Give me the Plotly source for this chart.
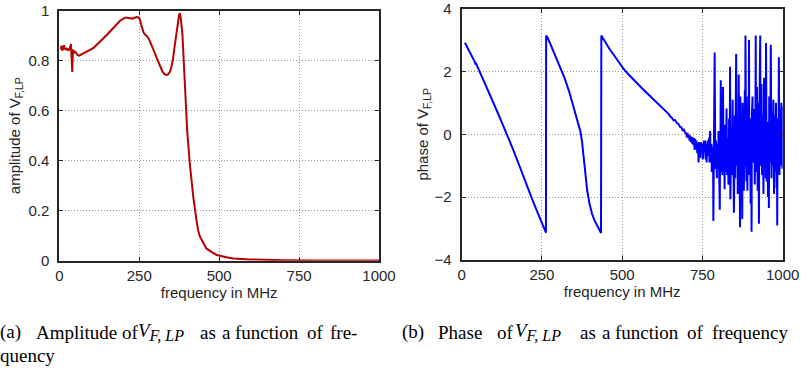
import plotly.graph_objects as go

# ---------------- data ----------------
amp_freq = [5, 7, 9, 11, 13, 15, 17, 19, 21, 23, 26, 29, 31, 33, 35, 36.5, 38, 39.5, 40.5, 41.5, 43,
            45, 47, 49, 51, 54, 57, 62, 68, 75, 83, 91, 99, 106, 113, 120, 127, 135, 143, 150, 158,
            166, 174, 182, 190, 198, 205, 213, 221, 229, 236, 242, 248, 252, 256, 260, 264, 268, 273,
            280, 287, 294, 301, 308, 315, 322, 329, 335, 340, 346, 351, 356, 361, 367, 372, 375, 377,
            380, 385, 389, 393, 397, 400, 408, 419, 429, 434, 440, 450, 460, 476, 492, 523, 544, 596,
            650, 700, 800, 900, 1000]
amp_vals = [0.845, 0.86, 0.84, 0.845, 0.852, 0.862, 0.845, 0.85, 0.843, 0.848, 0.846, 0.84, 0.845,
            0.85, 0.858, 0.867, 0.84, 0.79, 0.755, 0.8, 0.845, 0.835, 0.84, 0.83, 0.835, 0.825, 0.823,
            0.82, 0.824, 0.828, 0.832, 0.837, 0.843, 0.85, 0.859, 0.867, 0.876, 0.886, 0.896, 0.905,
            0.916, 0.927, 0.938, 0.95, 0.96, 0.966, 0.972, 0.972, 0.97, 0.968, 0.972, 0.975, 0.973,
            0.965, 0.945, 0.925, 0.912, 0.905, 0.9, 0.888, 0.866, 0.843, 0.82, 0.797, 0.776, 0.758,
            0.746, 0.743, 0.745, 0.756, 0.777, 0.81, 0.86, 0.92, 0.965, 0.985, 0.99, 0.97, 0.91, 0.81,
            0.71, 0.6, 0.52, 0.39, 0.256, 0.163, 0.123, 0.096, 0.07, 0.049, 0.035, 0.023, 0.014, 0.009,
            0.005, 0.003, 0.002, 0.001, 0.0007, 0.0005]

phase_freq = [10, 20, 30, 38, 40, 42, 44, 46, 60, 80, 100, 120, 140, 160, 180, 200, 220, 240, 255,
              262.5,
              263, 266, 275, 285, 295, 307, 320, 335, 349, 360, 370, 375, 380, 385, 391, 398, 406,
              414, 422, 428, 434,
              435, 440, 450, 460, 474, 490, 505, 520, 540, 560, 580, 600, 620, 630, 640, 645, 650,
              655, 660, 665, 670, 675, 680, 684, 688, 692, 696,
              700, 701, 702, 703, 704, 706, 707, 708, 710, 711, 712, 714, 715, 716, 718, 719, 720,
              722, 723, 724, 726, 727, 728, 730, 731, 732, 734, 735, 736, 738, 739, 740, 742, 743,
              744, 746, 747, 748, 750, 751, 752, 754, 755, 756, 758, 759, 760, 762, 763, 764, 766,
              767, 768, 770, 771, 772, 774, 775, 776, 778, 779, 780, 782, 783, 784, 786, 787, 788,
              790, 791, 792, 794, 795, 796, 798, 799, 800, 802, 803, 804, 805, 806, 807, 809, 810,
              811, 812, 813, 814, 816, 817, 818, 819, 820, 821, 823, 824, 825, 827, 828, 829, 831,
              832, 833, 835, 836, 837, 839, 840, 841, 843, 844, 845, 847, 848, 849, 851, 852, 854,
              855, 856, 858, 859, 860, 862, 863, 864, 866, 867, 868, 870, 871, 872, 874, 875, 876,
              878, 879, 880, 882, 883, 884, 886, 887, 888, 890, 891, 892, 894, 895, 896, 898, 899,
              900, 902, 903, 904, 906, 907, 908, 911, 912, 913, 915, 916, 917, 919, 920, 922, 923,
              924, 926, 927, 928, 930, 931, 932, 934, 935, 936, 938, 939, 940, 942, 943, 944, 946,
              947, 948, 950, 951, 953, 954, 955, 957, 958, 959, 961, 962, 963, 965, 966, 967, 969,
              970, 971, 973, 974, 975, 977, 978, 979, 981, 982, 983, 984, 986, 987, 988, 990, 991,
              992, 994, 995, 996, 998, 999, 1000]
phase_vals = [2.91, 2.72, 2.52, 2.37, 2.32, 2.25, 2.26, 2.22, 1.88, 1.43, 0.97, 0.5, 0.03, -0.48,
              -1.01, -1.58, -2.08, -2.58, -2.96, -3.13,
              3.14, 3.1, 2.9, 2.66, 2.42, 2.13, 1.8, 1.35, 0.87, 0.45, 0.08, -0.25, -0.72, -1.25,
              -1.79, -2.2, -2.53, -2.75, -2.92, -3.05, -3.14,
              3.14, 3.05, 2.88, 2.72, 2.52, 2.28, 2.07, 1.9, 1.68, 1.48, 1.28, 1.08, 0.88, 0.8, 0.68,
              0.64, 0.56, 0.52, 0.44, 0.45, 0.36, 0.33, 0.24, 0.22, 0.13, 0.15, 0.05,
              0.02, -0.1, -0.08, 0.04, 0.0, -0.12, -0.02, -0.05, -0.2, -0.05, -0.1, -0.25, -0.08,
              -0.12, -0.3, -0.1, -0.15, -0.35, -0.12, -0.2, -0.5, -0.15, -0.25, -0.45, -0.2, -0.3,
              -0.6, -0.3, -0.35, -0.9, -0.25, -0.4, -0.3, -0.75, -0.6, -0.25, -0.55, -0.5, -0.3,
              -0.8, -0.7, -0.35, -0.2, -0.55, -0.2, -0.45, -0.8, -0.3, -0.9, -0.6, -0.2, -0.3, -0.7,
              -0.2, -0.1, -0.9, 0.1, -0.9, -0.4, -0.3, -1.2, -0.5, -1.0, -0.4, -2.76, -0.2, -0.6,
              2.6, -1.1, -0.9, -0.2, -1.0, -1.4, -0.3, -0.8, -1.1, 0.1, -1.2, -0.9, -2.4, -0.2, -0.5,
              1.72, -0.9, -1.2, -0.3, -1.3, -1.0, 1.5, -1.1, -0.8, -0.2, -1.75, -0.4, 0.3, -0.9,
              -1.2, 0.82, -1.3, -0.9, -0.1, -1.6, -1.5, 0.5, -0.9, 2.15, -2.07, -0.6, 0.2, -1.3,
              0.3, 1.1, -0.8, -1.4, -2.5, 0.2, 0.6, -1.4, 0.1, 2.55, -1.0, -0.2, 0.4, -1.9, -0.3,
              1.9, -0.5, -1.2, -2.96, 1.2, -0.8, -1.6, -0.2, -2.7, 1.0, -1.1, -0.4, -1.8, 0.4, 1.4,
              -1.0, 3.14, -0.6, -1.5, 1.2, -1.8, -0.2, 0.9, -1.3, 3.0, -1.2, 0.2, 0.5, -2.2, -0.4,
              -3.1, 0.6, 1.2, -0.9, -0.2, 0.8, -0.3, -1.6, 0.4, 3.14, -0.7, -1.2, 1.5, -1.8, 0.2,
              1.0, -2.85, 0.1, 0.8, 3.14, -1.0, -0.4, 1.6, -0.8, -1.3, 0.6, -0.6, -1.9, 1.8, -0.5,
              -1.0, 0.9, -1.4, 2.9, -1.5, 0.1, 0.4, -2.0, 0.3, -2.35, 1.2, -0.9, -0.6, 0.5, 2.85,
              -1.4, -0.2, 0.7, -1.0, 0.2, 1.1, -1.9, -0.4, 0.6, -1.2, 0.3, 1.0, -1.7, -0.5, -2.9,
              0.5, -1.1, -0.9, 2.45, -1.3, -0.2, 0.8, -1.0, -0.3, 1.0, -0.7, -1.1, 0.9, -1.2, 0.2,
              -3.05]

x_ticks = [0, 250, 500, 750, 1000]
amp_ticks = [0, 0.2, 0.4, 0.6, 0.8, 1]
phase_ticks = [-4, -2, 0, 2, 4]

# ---------------- figure ----------------
W, H = 805, 376
fig = go.Figure()
fig.add_trace(go.Scatter(x=amp_freq, y=amp_vals, mode="lines",
                         line=dict(color="#b80000", width=2), xaxis="x", yaxis="y",
                         showlegend=False, hoverinfo="skip"))
fig.add_trace(go.Scatter(x=phase_freq, y=phase_vals, mode="lines",
                         line=dict(color="#0000ff", width=2), xaxis="x2", yaxis="y2",
                         showlegend=False, hoverinfo="skip"))


def px_x(p):
    return p / W


def px_y(p):
    return 1 - p / H


tick_font = dict(family="Liberation Sans, Arial, sans-serif", size=15, color="#262626")
axis_common = dict(showline=True, linecolor="#262626", linewidth=2, mirror="ticks",
                   ticks="inside", ticklen=4, tickwidth=1, tickcolor="#262626",
                   showgrid=True, gridcolor="#9a9a9a", griddash="1px,2px", gridwidth=1,
                   zeroline=False, tickfont=tick_font, automargin=False,
                   ticklabeloverflow="allow")

fig.update_layout(
    width=W, height=H, margin=dict(l=0, r=0, t=0, b=0, autoexpand=False),
    paper_bgcolor="white", plot_bgcolor="white",
    xaxis=dict(domain=[px_x(59.3), px_x(379)], range=[0, 1000], tickvals=x_ticks,
               anchor="y", title=dict(text="frequency in MHz", font=tick_font, standoff=0),
               **axis_common),
    yaxis=dict(domain=[px_y(260.7), px_y(10.7)], range=[0, 1.0001], tickvals=amp_ticks,
               ticktext=["0", "0.2", "0.4", "0.6", "0.8", "1"], ticklabelstandoff=5,
               anchor="x", title=dict(text="amplitude of V<sub>F,LP</sub>", font=tick_font,
                                      standoff=4),
               **axis_common),
    xaxis2=dict(domain=[px_x(461.7), px_x(782.7)], range=[0, 1000], tickvals=x_ticks,
                anchor="y2", title=dict(text="frequency in MHz", font=tick_font, standoff=0),
                **axis_common),
    yaxis2=dict(domain=[px_y(260), px_y(8.5)], range=[-4.0005, 4.0005], tickvals=phase_ticks,
                ticktext=["\u22124", "\u22122", "0", "2", "4"], ticklabelstandoff=5,
                anchor="x2", title=dict(text="phase of V<sub>F,LP</sub>", font=tick_font,
                                        standoff=2),
                **axis_common),
)

# ---------------- caption (positioned words, as in the justified source) -----
cap_font = dict(family="Liberation Serif, Times New Roman, serif", size=19, color="black")
V = "<i>V</i><sub><span style='font-size:16px'><i>F, LP</i></span></sub>"
line1 = [("(a)", 0), ("Amplitude", 36), ("of", 122), (V, 138), ("as", 200), ("a", 222),
         ("function", 235), ("of", 307), ("fre-", 330)]
line2 = [("quency", 0)]
line1b = [("(b)", 402), ("Phase", 438), ("of", 497), (V, 515), ("as", 580), ("a", 602),
          ("function", 615), ("of", 687), ("frequency", 712)]
for txt, x0 in line1 + line1b:
    fig.add_annotation(text=txt, xref="paper", yref="paper", x=px_x(x0), y=px_y(332),
                       xanchor="left", yanchor="middle", showarrow=False, font=cap_font,
                       borderpad=0, borderwidth=0)
for txt, x0 in line2:
    fig.add_annotation(text=txt, xref="paper", yref="paper", x=px_x(x0), y=px_y(355),
                       xanchor="left", yanchor="middle", showarrow=False, font=cap_font,
                       borderpad=0, borderwidth=0)

fig.write_html("out.html")
